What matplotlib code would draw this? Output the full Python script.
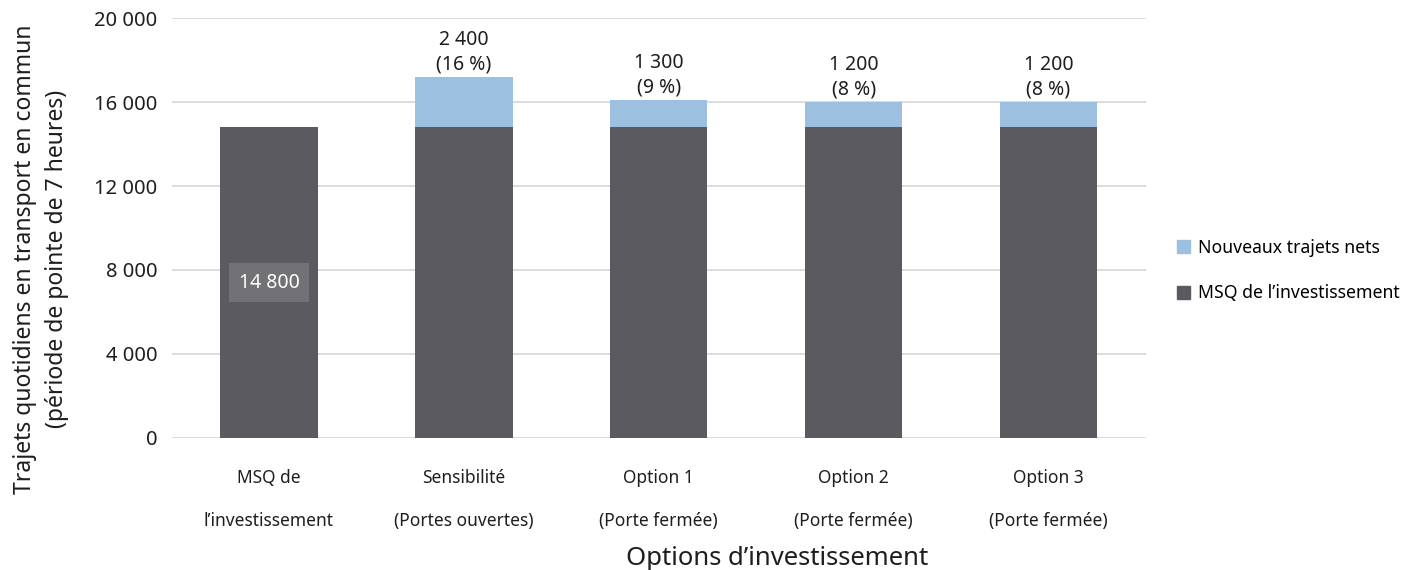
import matplotlib.pyplot as plt
from matplotlib.patches import Patch

plt.rcParams['font.family'] = ['Noto Sans', 'DejaVu Sans']

# data
categories = ["MSQ de\nl\u2019investissement", "Sensibilit\u00e9\n(Portes ouvertes)",
              "Option 1\n(Porte ferm\u00e9e)", "Option 2\n(Porte ferm\u00e9e)",
              "Option 3\n(Porte ferm\u00e9e)"]
base = [14800, 14800, 14800, 14800, 14800]
new_trips = [0, 2400, 1300, 1200, 1200]
new_labels = ["", "2 400\n(16 %)", "1 300\n(9 %)", "1 200\n(8 %)", "1 200\n(8 %)"]
yticks = [0, 4000, 8000, 12000, 16000, 20000]
ytick_labels = ["0", "4 000", "8 000", "12 000", "16 000", "20 000"]

dark = "#5b5a60"
light = "#9dbfe0"
txt = "#1e1e1e"

fig = plt.figure(figsize=(14.19, 5.7), dpi=100)
ax = fig.add_axes([0.1209, 0.2316, 0.6867, 0.7368])

x = range(len(categories))
ax.bar(x, base, width=0.5, color=dark, zorder=2)
ax.bar(x, new_trips, width=0.5, bottom=base, color=light, zorder=2)

# value labels above the stacked bars
for i in x:
    if new_trips[i] > 0:
        ax.text(i, base[i] + new_trips[i] + 100, new_labels[i], ha='center', va='bottom',
                fontsize=14, linespacing=1.3, color=txt)

# boxed label inside the first bar
ax.text(0, base[0] / 2, "14 800", ha='center', va='center', fontsize=14, color="white",
        bbox=dict(boxstyle='square,pad=0.5', fc="#727176", ec='none'), zorder=3)

ax.set_xlim(-0.5, 4.5)
ax.set_ylim(0, 20000)
ax.set_yticks(yticks)
ax.set_yticklabels(ytick_labels, fontsize=14.5, color=txt)
ax.set_xticks(list(x))
ax.set_xticklabels(categories, fontsize=12.5, linespacing=2.85, color=txt)
ax.tick_params(axis='both', length=0)
ax.tick_params(axis='y', pad=10)
ax.tick_params(axis='x', pad=22)
ax.grid(axis='y', color="#d9d9d9", linewidth=1.3, zorder=0)
for s in ax.spines.values():
    s.set_visible(False)

ax.set_xlabel("Options d\u2019investissement", fontsize=18.5, color=txt)
ax.xaxis.set_label_coords(0.621, -0.288)
ax.xaxis.label.set_va('center')
ax.set_ylabel("Trajets quotidiens en transport en commun\n(p\u00e9riode de pointe de 7 heures)",
              fontsize=16.5, color=txt, linespacing=1.45)
ax.yaxis.set_label_coords(-0.134, 0.426)
ax.yaxis.label.set_va('center')

handles = [Patch(color=light, label="Nouveaux trajets nets"),
           Patch(color=dark, label="MSQ de l\u2019investissement")]
fig.legend(handles=handles, loc='center left', bbox_to_anchor=(0.818, 0.525), frameon=False,
           fontsize=12.7, handlelength=0.75, handleheight=0.75, handletextpad=0.45,
           labelspacing=1.55)

plt.savefig("out.png", dpi=100)
